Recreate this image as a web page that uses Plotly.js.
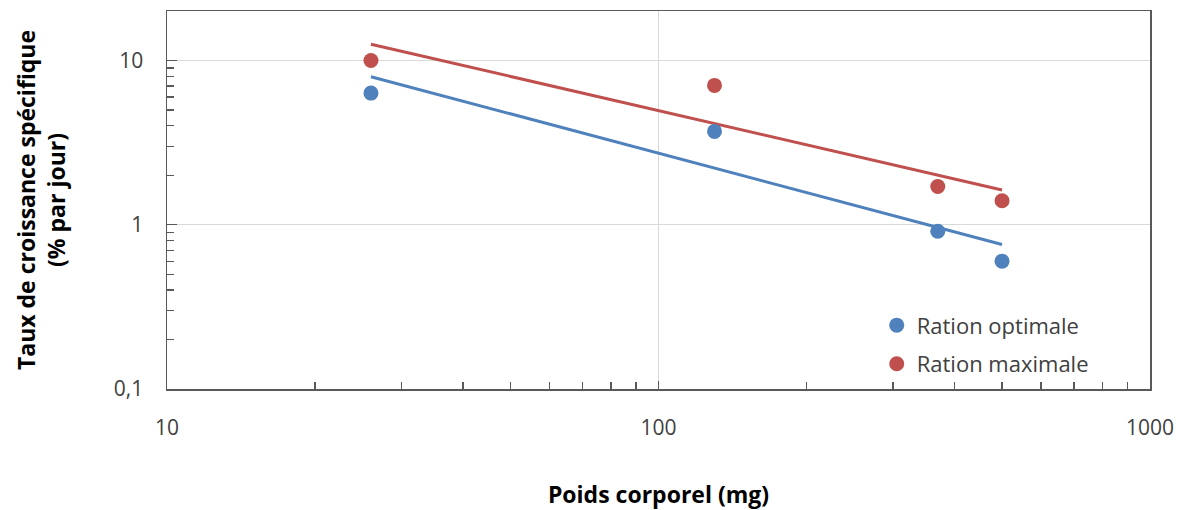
<!DOCTYPE html>
<html>
<head>
<meta charset="utf-8">
<script src="https://cdn.plot.ly/plotly-3.0.1.min.js"></script>
<style>html,body{margin:0;padding:0;background:#fff;}#chart{width:1188px;height:510px;}</style>
</head>
<body>
<div id="chart"></div>
<script>
// Poids corporel (mg)
const poids = [26, 130, 370, 500];
// Taux de croissance spécifique (% par jour)
const rationOptimale = [6.33, 3.70, 0.913, 0.60];
const rationMaximale = [10.0, 7.05, 1.71, 1.40];
const seriesNames = ['Ration optimale', 'Ration maximale'];
const yTickVals = [0.1, 1, 10];
const yTickText = ['0,1', '1', '10'];
const xTickVals = [10, 100, 1000];
const xTickText = ['10', '100', '1000'];

const blue = '#4f81bd';
const red = '#c0504d';

// Power-law trendline (least squares in log–log space), evaluated at the data's x extent
function powerFit(xs, ys) {
  const lx = xs.map(Math.log10), ly = ys.map(Math.log10);
  const n = lx.length;
  const mx = lx.reduce((a, b) => a + b, 0) / n, my = ly.reduce((a, b) => a + b, 0) / n;
  let sxy = 0, sxx = 0;
  for (let i = 0; i < n; i++) { sxy += (lx[i] - mx) * (ly[i] - my); sxx += (lx[i] - mx) ** 2; }
  const b = sxy / sxx, a = my - b * mx;
  const xmin = Math.min(...xs), xmax = Math.max(...xs);
  const steps = 40, tx = [], ty = [];
  for (let i = 0; i <= steps; i++) {
    const lv = Math.log10(xmin) + (Math.log10(xmax) - Math.log10(xmin)) * i / steps;
    tx.push(Math.pow(10, lv));
    ty.push(Math.pow(10, a + b * lv));
  }
  return {x: tx, y: ty};
}

const fitO = powerFit(poids, rationOptimale);
const fitM = powerFit(poids, rationMaximale);

const font = 'Open Sans, Lato, sans-serif';

const traces = [
  {x: fitO.x, y: fitO.y, mode: 'lines', line: {color: blue, width: 3}, showlegend: false, hoverinfo: 'skip'},
  {x: fitM.x, y: fitM.y, mode: 'lines', line: {color: red, width: 3}, showlegend: false, hoverinfo: 'skip'},
  {x: poids, y: rationOptimale, mode: 'markers', name: seriesNames[0], legendgroup: 'o', marker: {color: blue, size: 15}},
  {x: poids, y: rationMaximale, mode: 'markers', name: seriesNames[1], legendgroup: 'm', marker: {color: red, size: 15}}
];

const layout = {
  width: 1188, height: 510,
  margin: {l: 167, r: 38, t: 11, b: 121},
  paper_bgcolor: '#ffffff', plot_bgcolor: '#ffffff',
  font: {family: font, color: '#404040', size: 21},
  showlegend: true,
  legend: {x: 0.722, y: 0.224, xanchor: 'left', yanchor: 'top', bgcolor: 'rgba(0,0,0,0)',
    font: {family: font, size: 22, color: '#404040'}, itemwidth: 30, tracegroupgap: 7},
  xaxis: {
    type: 'log', range: [1, 3],
    tickmode: 'array', tickvals: xTickVals, ticktext: xTickText,
    ticks: 'inside', ticklen: 8, tickcolor: '#595959', tickwidth: 1.3,
    minor: {ticks: 'inside', ticklen: 7, tickcolor: '#595959', tickwidth: 1.3, dtick: 'D1', showgrid: false},
    showgrid: true, gridcolor: '#d9d9d9', gridwidth: 1.3,
    showline: true, linecolor: '#595959', linewidth: 1.5, mirror: true,
    zeroline: false,
    tickfont: {family: font, size: 21, color: '#404040'},
    ticklabelstandoff: 19,
    title: {text: '<b>Poids corporel (mg)</b>', font: {family: font, size: 23, color: '#000000'}, standoff: 48}
  },
  yaxis: {
    type: 'log', range: [-1, Math.log10(20)],
    tickmode: 'array', tickvals: yTickVals, ticktext: yTickText,
    ticks: 'inside', ticklen: 10, tickcolor: '#595959', tickwidth: 1.3,
    minor: {ticks: 'inside', ticklen: 7, tickcolor: '#595959', tickwidth: 1.3, dtick: 'D1', showgrid: false},
    showgrid: true, gridcolor: '#d9d9d9', gridwidth: 1.3,
    showline: true, linecolor: '#595959', linewidth: 1.5, mirror: true,
    zeroline: false,
    tickfont: {family: font, size: 21, color: '#404040'},
    ticklabelstandoff: 18,
    title: {text: '<b>Taux de croissance spécifique<br>(% par jour)</b>', font: {family: font, size: 23, color: '#000000'}, standoff: 42}
  }
};

Plotly.newPlot('chart', traces, layout, {displayModeBar: false, staticPlot: true});
</script>
</body>
</html>
